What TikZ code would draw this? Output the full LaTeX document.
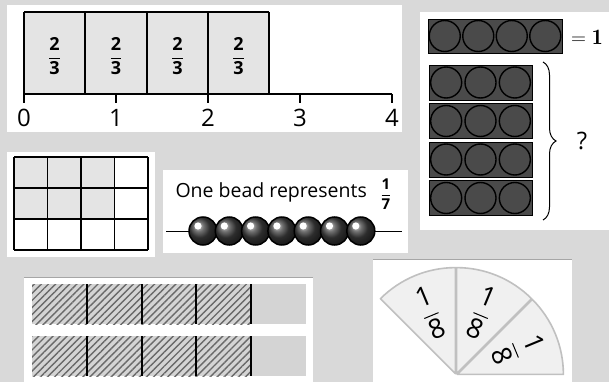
\documentclass[tikz,border=0pt]{standalone}
\usepackage{amsmath}
\usepackage{fontspec}
\setsansfont{Open Sans}
\usepackage{xcolor}
\usepackage{tikz}
\usetikzlibrary{arrows.meta}
\usetikzlibrary{calc,decorations.pathreplacing,patterns.meta}

\definecolor{bg}{RGB}{217,217,217}
\definecolor{cell}{RGB}{228,228,228}
\definecolor{rod}{RGB}{74,74,74}
\definecolor{barbase}{RGB}{212,212,212}
\definecolor{hatch}{RGB}{105,105,105}
\definecolor{wedge}{RGB}{240,240,240}
\definecolor{wedgeline}{RGB}{192,192,192}

\newcommand{\vfrac}[2]{$\dfrac{\mbox{#1}}{\mbox{#2}}$}

\begin{document}
\begin{tikzpicture}[x=1pt, y=1pt,
    gl/.style={line width=1.5pt},
    num/.style={font=\sffamily\fontsize{24}{26}\selectfont},
    ft/.style={font=\sffamily\fontsize{18}{20}\selectfont},
    rd/.style={fill=rod, draw=black, line width=0.9pt},
    bd/.style={fill=rod, draw=black, line width=1.4pt},
    wd/.style={fill=wedge, draw=wedgeline, line width=1.6pt, line join=round},
    wl/.style={font=\sffamily\fontsize{27}{29}\selectfont, inner sep=0pt}]
  \fill[bg] (0,0) rectangle (609,-382);
  \useasboundingbox (0,0) rectangle (609,-382);

  \fill[white] (7,-5) rectangle (402,-132);
  \fill[cell] (24,-12) rectangle (269,-94);
  \foreach \x in {24,85,147,208,269}
    \draw[gl] (\x,-12) -- (\x,-94);
  \draw[gl] (24,-12) -- (269,-12);
  \foreach \x [count=\i] in {54.5,116,177.5,238.5}
    \node[ft] (f\i) at (\x,-56) {\vfrac{\bfseries 2}{\bfseries 3}};
  \draw[gl] (24,-94) -- (392,-94);
  \foreach \i in {0,...,4}{
    \draw[gl] ({24+92*\i},-94) -- ({24+92*\i},-103);
    \node[num] (n\i) at ({24+92*\i},-118) {\i};}

  \fill[white] (420,-12) rectangle (609,-230);
  \draw[rd] (428,-19) rectangle (562,-53);
  \foreach \i in {0,...,3}
    \draw[bd] ({428+33.5*(\i+.5)},-36) circle (15.5);
  \node (one) at (587,-37) {\fontsize{22}{24}\selectfont$=\mathbf{1}$};
  \foreach \y in {65,103.5,142,180.5}{
    \draw[rd] (429,-\y) rectangle (532,{-\y-35});
    \foreach \j in {0,1,2}
      \draw[bd] ({429+34.33*(\j+.5)},{-\y-17.5}) circle (15.5);}
  \coordinate (bt) at (543,-62);
  \coordinate (bb) at (543,-220);
  \draw[decorate, decoration={brace, amplitude=13pt}, line width=1pt] (bt) -- (bb);
  \node[font=\sffamily\fontsize{24}{26}\selectfont] (q) at (582,-141) {?};

  \fill[white] (7,-152) rectangle (155,-257);
  \fill[cell] (14,-157) rectangle (114.5,-219);
  \foreach \i in {0,...,4}
    \draw[gl] ({14+33.5*\i},-157) -- ({14+33.5*\i},-250);
  \foreach \j in {0,...,3}
    \draw[gl] (14,{-157-31*\j}) -- (148,{-157-31*\j});

  \fill[white] (163,-170) rectangle (408,-253);
  \node[anchor=west, font=\sffamily\fontsize{19.5}{22}\selectfont] (txt) at (172,-192) {One bead represents};
  \node[font=\sffamily\fontsize{15}{17}\selectfont] (sev) at (386,-194) {\vfrac{\bfseries 1}{\bfseries 7}};
  \draw[line width=1pt] (166,-231) -- (402,-231);
  \foreach \i in {0,...,6}{
    \shade[ball color=black!75] ({203+26.3*\i},-231) circle (14);
    \draw[line width=1.5pt] ({203+26.3*\i},-231) circle (14);
    \fill[white] ({198+26.3*\i},-226) circle (3.6);}

  \fill[white] (24,-277) rectangle (313,-382);
  \draw[gray!70, line width=0.8pt] (24,-277) -- (313,-277);
  \foreach \y in {284,336}{
    \fill[barbase] (32,-\y) rectangle (306,{-\y-40});
    \fill[pattern={Lines[angle=45, distance=5pt, line width=1.4pt]}, pattern color=hatch]
      (32,-\y) rectangle (251,{-\y-40});
    \foreach \x in {87,142,196,251}
      \draw[line width=1.5pt] (\x,-\y) -- (\x,{-\y-40});}

  \fill[white] (373,-259) rectangle (572,-382);
  \draw[gray!70, line width=0.8pt] (373,-259) -- (572,-259);
  \foreach \a [count=\i] in {112.5,67.5,22.5}{
    \coordinate (c\i) at ($(456,-375)+(\a:1.5)$);
    \draw[wd] (c\i) -- ++({\a-22.5}:106) arc[start angle={\a-22.5}, end angle={\a+22.5}, radius=106] -- cycle;
    \node[wl, rotate=\a-90] (w\i) at ($(c\i)+(\a:66)$) {\vfrac{1}{8}};}
\end{tikzpicture}
\end{document}
